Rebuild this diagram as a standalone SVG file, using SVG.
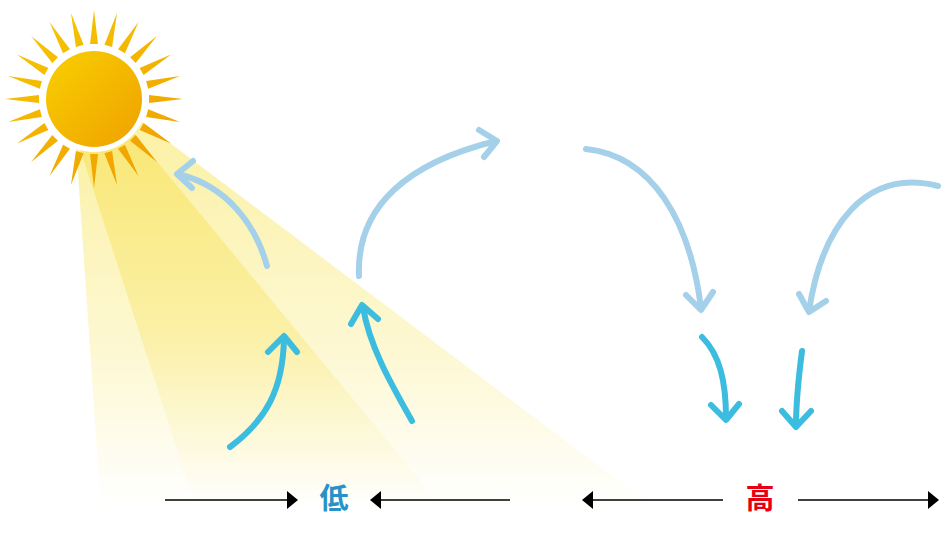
<svg xmlns="http://www.w3.org/2000/svg" xmlns:xlink="http://www.w3.org/1999/xlink" width="944" height="533" viewBox="0 0 944 533">
  <style>
    .air { fill: none; stroke: #A4D1E9; stroke-width: 6; stroke-linecap: round; stroke-linejoin: round; }
    .ground { fill: none; stroke: #3CBCDF; stroke-width: 6; stroke-linecap: round; stroke-linejoin: round; }
    .scale { stroke: #000; stroke-width: 1.5; fill: none; }
    .head { fill: #000; }
    .label { font-family: "Noto Sans CJK JP", "Noto Sans CJK SC", sans-serif; font-weight: bold; font-size: 29px; text-anchor: middle; }
  </style>
  <defs>
    <linearGradient id="sunGrad" x1="0" y1="0" x2="1" y2="1">
      <stop offset="0" stop-color="#F8D000"/>
      <stop offset="1" stop-color="#F0A000"/>
    </linearGradient>
    <linearGradient id="rayGrad" gradientUnits="userSpaceOnUse" x1="30" y1="10" x2="150" y2="190">
      <stop offset="0" stop-color="#F6C800"/>
      <stop offset="1" stop-color="#F09E00"/>
    </linearGradient>
    <linearGradient id="beamLight" gradientUnits="userSpaceOnUse" x1="0" y1="130" x2="0" y2="508">
      <stop offset="0" stop-color="#FBF1A6"/>
      <stop offset="0.6" stop-color="#FDF8D4"/>
      <stop offset="1" stop-color="#FFFFFF"/>
    </linearGradient>
    <linearGradient id="beamDark" gradientUnits="userSpaceOnUse" x1="0" y1="130" x2="0" y2="508">
      <stop offset="0" stop-color="#F9E774"/>
      <stop offset="0.55" stop-color="#FBF0A8"/>
      <stop offset="1" stop-color="#FFFFFF"/>
    </linearGradient>
    <polygon id="ray" points="94,10 90,44 98,44"/>
    <clipPath id="rayClip">
      <use xlink:href="#ray" transform="rotate(0 94 99)"/>
      <use xlink:href="#ray" transform="rotate(15 94 99)"/>
      <use xlink:href="#ray" transform="rotate(30 94 99)"/>
      <use xlink:href="#ray" transform="rotate(45 94 99)"/>
      <use xlink:href="#ray" transform="rotate(60 94 99)"/>
      <use xlink:href="#ray" transform="rotate(75 94 99)"/>
      <use xlink:href="#ray" transform="rotate(90 94 99)"/>
      <use xlink:href="#ray" transform="rotate(105 94 99)"/>
      <use xlink:href="#ray" transform="rotate(120 94 99)"/>
      <use xlink:href="#ray" transform="rotate(135 94 99)"/>
      <use xlink:href="#ray" transform="rotate(150 94 99)"/>
      <use xlink:href="#ray" transform="rotate(165 94 99)"/>
      <use xlink:href="#ray" transform="rotate(180 94 99)"/>
      <use xlink:href="#ray" transform="rotate(195 94 99)"/>
      <use xlink:href="#ray" transform="rotate(210 94 99)"/>
      <use xlink:href="#ray" transform="rotate(225 94 99)"/>
      <use xlink:href="#ray" transform="rotate(240 94 99)"/>
      <use xlink:href="#ray" transform="rotate(255 94 99)"/>
      <use xlink:href="#ray" transform="rotate(270 94 99)"/>
      <use xlink:href="#ray" transform="rotate(285 94 99)"/>
      <use xlink:href="#ray" transform="rotate(300 94 99)"/>
      <use xlink:href="#ray" transform="rotate(315 94 99)"/>
      <use xlink:href="#ray" transform="rotate(330 94 99)"/>
      <use xlink:href="#ray" transform="rotate(345 94 99)"/>
    </clipPath>
  </defs>

  <rect width="944" height="533" fill="#FFFFFF"/>

  <!-- sunlight wedges -->
  <g id="beams">
    <polygon points="75,130 130,113 655,508 101,508" fill="url(#beamLight)"/>
    <polygon points="74,130 131,130 443,508 196,508" fill="url(#beamDark)"/>
  </g>

  <!-- sun -->
  <g id="sun">
    <circle cx="94" cy="99" r="92" fill="url(#rayGrad)" clip-path="url(#rayClip)"/>
    <circle cx="94" cy="99" r="53" fill="#FFFFFF"/>
    <circle cx="94" cy="99" r="48" fill="url(#sunGrad)"/>
  </g>

  <!-- heat flow arrows -->
  <g id="connectors">
    <!-- reflected back toward the sun -->
    <path class="air" d="M267,266 C256,226 228,186 178,174"/>
    <path class="air" d="M193,161 L177,174 L192,188"/>
    <!-- rising and carried over -->
    <path class="air" d="M359,276 C356,205 410,162 496,141"/>
    <path class="air" d="M479,130 L497,141 L484,157"/>
    <!-- descending on the right -->
    <path class="air" d="M586,149 C652,156 690,220 701,308"/>
    <path class="air" d="M686,295 L701,310 L713,292"/>
    <path class="air" d="M938,186 C866,168 822,225 809,311"/>
    <path class="air" d="M799,294 L809,312 L826,301"/>

    <!-- rising from the warm ground -->
    <path class="ground" d="M230,447 C266,420 283,390 284,338"/>
    <path class="ground" d="M268,352 L284,336 L297,352"/>
    <path class="ground" d="M412,421 C390,382 369,345 363,307"/>
    <path class="ground" d="M351,324 L362,305 L378,319"/>
    <!-- sinking to the cool ground -->
    <path class="ground" d="M702,337 C720,355 726,382 726,418"/>
    <path class="ground" d="M711,405 L726,420 L739,404"/>
    <path class="ground" d="M802,351 C798,382 796,402 796,426"/>
    <path class="ground" d="M782,411 L796,427 L811,411"/>
  </g>

  <!-- pressure scale -->
  <g id="scale-low">
    <line class="scale" x1="165" y1="500" x2="290" y2="500"/>
    <polygon class="head" points="287,491 298,500 287,509"/>
    <text class="label" x="334" y="509" fill="#2A91C8">低</text>
    <line class="scale" x1="378" y1="500" x2="510" y2="500"/>
    <polygon class="head" points="381,491 370,500 381,509"/>
  </g>
  <g id="scale-high">
    <line class="scale" x1="590" y1="500" x2="723" y2="500"/>
    <polygon class="head" points="593,491 582,500 593,509"/>
    <text class="label" x="760" y="509" fill="#E60012">高</text>
    <line class="scale" x1="798" y1="500" x2="930" y2="500"/>
    <polygon class="head" points="928,491 939,500 928,509"/>
  </g>
</svg>
